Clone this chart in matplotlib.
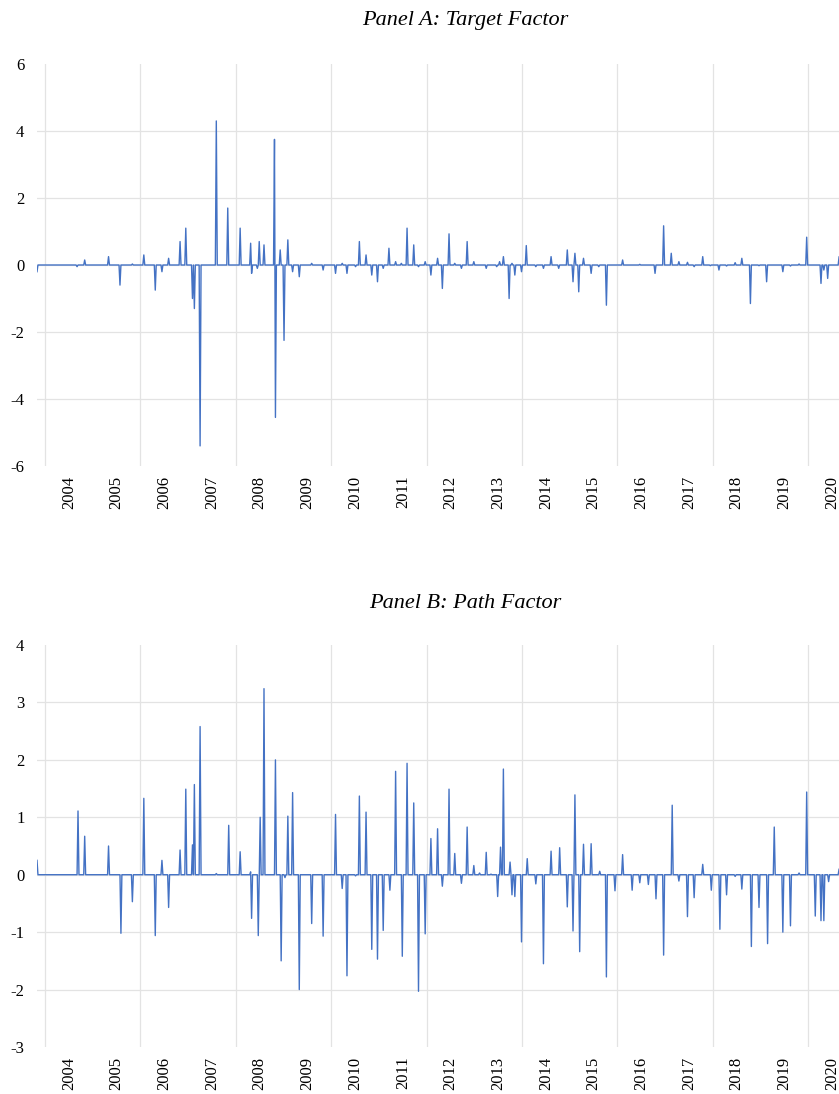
import numpy as np
import matplotlib
matplotlib.use("Agg")
import matplotlib.pyplot as plt

# event dates (decimal years) and factor values
target_dates = [2003.83, 2004.67, 2004.82, 2005.33, 2005.57, 2005.83, 2006.08, 2006.30, 2006.44, 2006.58,
                2006.84, 2006.94, 2007.09, 2007.13, 2007.25, 2007.59, 2007.84, 2008.09, 2008.30, 2008.34,
                2008.44, 2008.49, 2008.59, 2008.81, 2008.83, 2008.93, 2009.01, 2009.09, 2009.18, 2009.32,
                2009.58, 2009.83, 2010.09, 2010.22, 2010.33, 2010.51, 2010.59, 2010.72, 2010.86, 2010.97,
                2011.09, 2011.21, 2011.36, 2011.47, 2011.58, 2011.72, 2011.83, 2011.97, 2012.09, 2012.22,
                2012.32, 2012.47, 2012.60, 2012.72, 2012.85, 2012.98, 2013.24, 2013.47, 2013.53, 2013.61,
                2013.73, 2013.78, 2013.86, 2013.98, 2014.10, 2014.28, 2014.45, 2014.61, 2014.77, 2014.95,
                2015.06, 2015.12, 2015.19, 2015.29, 2015.44, 2015.61, 2015.77, 2016.12, 2016.47, 2016.79,
                2016.96, 2017.13, 2017.29, 2017.47, 2017.62, 2017.79, 2017.95, 2018.13, 2018.29, 2018.46,
                2018.61, 2018.79, 2018.96, 2019.13, 2019.46, 2019.63, 2019.80, 2019.96, 2020.26, 2020.32,
                2020.41, 2020.64]
target_vals = [-0.2, -0.05, 0.15, 0.25, -0.6, 0.03, 0.3, -0.75, -0.2, 0.2,
               0.7, 1.1, -1.0, -1.3, -5.4, 4.3, 1.7, 1.1, 0.65, -0.25,
               -0.1, 0.7, 0.6, 3.75, -4.55, 0.45, -2.25, 0.75, -0.2, -0.35,
               0.05, -0.15, -0.25, 0.05, -0.25, -0.05, 0.7, 0.3, -0.3, -0.5,
               -0.1, 0.5, 0.1, 0.05, 1.1, 0.6, -0.05, 0.1, -0.3, 0.2,
               -0.7, 0.93, 0.05, -0.1, 0.7, 0.1, -0.1, -0.05, 0.1, 0.25,
               -1.0, 0.05, -0.3, -0.2, 0.58, -0.05, -0.1, 0.25, -0.1, 0.45,
               -0.5, 0.35, -0.8, 0.2, -0.25, -0.05, -1.2, 0.15, 0.02, -0.25,
               1.17, 0.35, 0.1, 0.08, -0.05, 0.25, -0.02, -0.15, -0.03, 0.07,
               0.2, -1.15, -0.02, -0.5, -0.2, -0.03, 0.03, 0.83, -0.55, -0.15,
               -0.4, 0.25]

path_dates = [2003.83, 2004.69, 2004.83, 2005.33, 2005.58, 2005.83, 2006.08, 2006.31, 2006.44, 2006.58,
              2006.84, 2006.94, 2007.09, 2007.13, 2007.25, 2007.59, 2007.85, 2008.09, 2008.30, 2008.34,
              2008.46, 2008.51, 2008.60, 2008.84, 2008.94, 2009.02, 2009.09, 2009.19, 2009.32, 2009.60,
              2009.84, 2010.09, 2010.23, 2010.33, 2010.51, 2010.59, 2010.73, 2010.86, 2010.97, 2011.09,
              2011.23, 2011.36, 2011.48, 2011.59, 2011.72, 2011.84, 2011.97, 2012.09, 2012.22, 2012.33,
              2012.47, 2012.60, 2012.72, 2012.85, 2012.99, 2013.11, 2013.24, 2013.35, 2013.48, 2013.55,
              2013.61, 2013.74, 2013.78, 2013.86, 2013.99, 2014.11, 2014.28, 2014.45, 2014.61, 2014.78,
              2014.95, 2015.06, 2015.12, 2015.20, 2015.29, 2015.45, 2015.63, 2015.77, 2015.95, 2016.12,
              2016.30, 2016.47, 2016.64, 2016.80, 2016.97, 2017.14, 2017.29, 2017.47, 2017.62, 2017.79,
              2017.96, 2018.14, 2018.29, 2018.46, 2018.62, 2018.80, 2018.96, 2019.14, 2019.29, 2019.46,
              2019.63, 2019.80, 2019.97, 2020.14, 2020.27, 2020.33, 2020.42, 2020.64]
path_vals = [0.25, 1.11, 0.67, 0.5, -1.02, -0.47, 1.33, -1.06, 0.25, -0.57,
             0.43, 1.49, 0.52, 1.57, 2.58, 0.02, 0.86, 0.4, 0.05, -0.76,
             -1.06, 1.0, 3.24, 2.0, -1.5, -0.05, 1.02, 1.43, -2.0, -0.85,
             -1.07, 1.05, -0.24, -1.76, -0.02, 1.37, 1.09, -1.3, -1.47, -0.97,
             -0.27, 1.8, -1.42, 1.94, 1.25, -2.03, -1.03, 0.63, 0.8, -0.2,
             1.49, 0.37, -0.15, 0.83, 0.16, 0.03, 0.39, 0.01, -0.38, 0.48,
             1.84, 0.22, -0.35, -0.38, -1.17, 0.28, -0.16, -1.55, 0.41, 0.47,
             -0.56, -0.98, 1.39, -1.34, 0.53, 0.54, 0.06, -1.78, -0.28, 0.35,
             -0.27, -0.14, -0.17, -0.42, -1.4, 1.21, -0.11, -0.73, -0.4, 0.18,
             -0.27, -0.95, -0.35, -0.03, -0.25, -1.25, -0.57, -1.2, 0.83, -1.0,
             -0.89, 0.03, 1.44, -0.72, -0.8, -0.8, -0.12, 0.1]

years = list(range(2004, 2021))
grid_years = list(range(2004, 2022, 2))
ticks_a = [-6, -4, -2, 0, 2, 4, 6]
ticks_b = [-3, -2, -1, 0, 1, 2, 3, 4]

X0, X1 = 2003.83, 2021.78
STEP = 0.02


def spike_series(dates, vals):
    # regular time grid, zero between announcements
    t = X0 + STEP * np.arange(int((2020.80 - X0) / STEP))
    y = np.zeros_like(t)
    for d, v in zip(dates, vals):
        y[int(np.rint((d - X0) / STEP))] = v
    return t, y


plt.rcParams['font.family'] = ['Liberation Serif', 'DejaVu Serif']

W, H = 839, 1094
fig = plt.figure(figsize=(W / 100, H / 100), dpi=100)

left = 37 / W
width = (893 - 37) / W
panels = [
    (64, 466, target_dates, target_vals, ticks_a, "Panel A: Target Factor", 21),
    (645, 1047, path_dates, path_vals, ticks_b, "Panel B: Path Factor", 603),
]

for top, bot, dates, vals, yt, title, ty in panels:
    ax = fig.add_axes([left, 1 - bot / H, width, (bot - top) / H])
    t, y = spike_series(dates, vals)
    ax.plot(t, y, color='#4472C4', lw=1.0, zorder=3)
    ax.set_yticks(yt)
    ax.set_yticklabels([str(v) for v in yt])
    ax.set_xticks([y_ + 0.5 for y_ in years])
    ax.set_xticklabels([str(y_) for y_ in years], rotation=90)
    ax.set_xticks(grid_years, minor=True)
    ax.set_xlim(X0, X1)
    ax.set_ylim(yt[0], yt[-1])
    ax.tick_params(axis='both', which='both', length=0, labelsize=12, colors='black')
    ax.tick_params(axis='y', pad=9)
    ax.tick_params(axis='x', pad=7)
    ax.grid(axis='y', color='#E3E3E3', lw=0.9)
    ax.grid(axis='x', which='minor', color='#E3E3E3', lw=0.9)
    ax.grid(axis='x', which='major', visible=False)
    gl = ax.yaxis.get_gridlines()
    gl[0].set_visible(False)
    gl[-1].set_visible(False)
    for s in ax.spines.values():
        s.set_visible(False)
    fig.text(465 / W, 1 - ty / H, title, ha='center', va='center',
             fontsize=16, style='italic')

fig.savefig("out.png", dpi=100)
